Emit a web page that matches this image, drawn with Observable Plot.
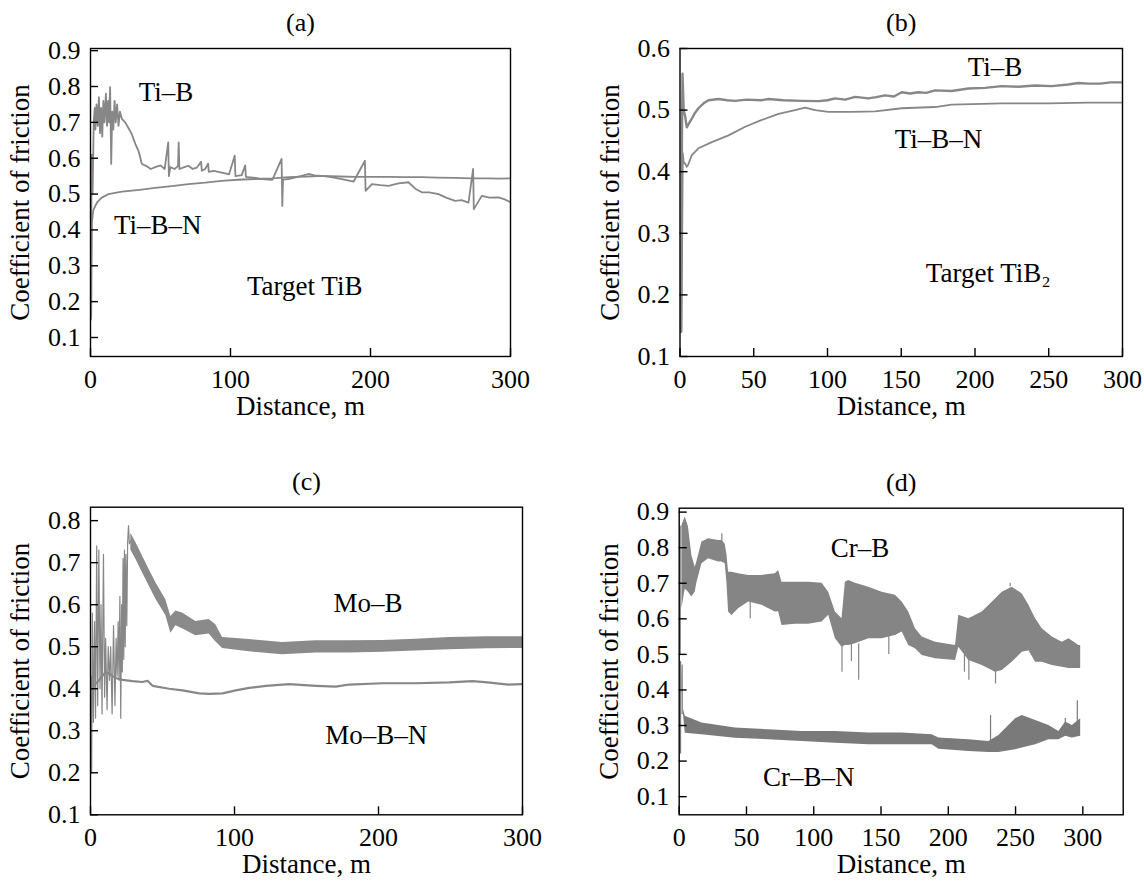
<!DOCTYPE html>
<html><head><meta charset="utf-8">
<script src="https://cdn.jsdelivr.net/npm/d3@7"></script>
<script src="https://cdn.jsdelivr.net/npm/@observablehq/plot@0.6"></script>
<style>
body{margin:0;background:#fff;}
#wrap{position:relative;width:1144px;height:882px;overflow:hidden;}
#wrap svg{position:absolute;overflow:visible;}
</style></head><body><div id="wrap"></div>
<script>
// ---------- data ----------
// Panel (a): target TiB  [distance m, coefficient]
const tiB_a = [[0.3,0.15],[0.8,0.61],[1.5,0.5],[2.3,0.70],[3.0,0.74],[3.5,0.68],[4.3,0.75],[5.2,0.69],[6.0,0.77],[6.8,0.67],[7.6,0.74],[8.4,0.66],[9.2,0.76],[10,0.70],[11,0.78],[11.8,0.69],[12.6,0.76],[13.3,0.70],[14,0.798],[14.8,0.584],[15.5,0.73],[16.3,0.68],[17.2,0.76],[18,0.70],[19,0.75],[20,0.69],[21,0.73],[22.4,0.71],[24.8,0.70],[27,0.685],[29.5,0.667],[32,0.64],[34.3,0.62],[36.7,0.584],[40,0.578],[43,0.57],[46.2,0.575],[50,0.58],[53,0.57],[55.5,0.644],[56,0.55],[57,0.575],[60,0.57],[62.5,0.578],[63,0.644],[63.5,0.57],[67,0.575],[70,0.579],[73,0.57],[76,0.574],[79,0.59],[79.5,0.565],[81.9,0.57],[84,0.585],[84.5,0.562],[88,0.565],[93.8,0.56],[99,0.555],[103,0.607],[103.5,0.55],[108,0.553],[110.5,0.58],[111,0.548],[112.9,0.547],[118,0.545],[122.4,0.542],[130,0.54],[136.5,0.598],[137,0.467],[137.5,0.54],[141.4,0.542],[148,0.548],[155.7,0.556],[160,0.552],[165.2,0.551],[172,0.547],[179.5,0.542],[188,0.535],[196,0.593],[196.5,0.509],[201,0.528],[207,0.525],[212.9,0.523],[220,0.53],[227.1,0.533],[232,0.515],[236.7,0.505],[242,0.505],[248.6,0.5],[254,0.49],[260.5,0.481],[265,0.483],[270,0.476],[273.3,0.57],[273.8,0.458],[279.5,0.495],[285,0.49],[291.4,0.491],[296,0.485],[300,0.477]];
const tiBN_a = [[0.5,0.16],[1.0,0.42],[2,0.455],[3.3,0.466],[5,0.478],[8.1,0.49],[12.9,0.5],[22.4,0.507],[35,0.512],[46.2,0.517],[58,0.522],[70,0.528],[82,0.532],[93.8,0.537],[105,0.54],[117.6,0.542],[130,0.544],[141.4,0.547],[155,0.549],[165.2,0.551],[178,0.549],[189,0.548],[200,0.548],[212.9,0.548],[225,0.547],[236.7,0.547],[248,0.546],[260.5,0.545],[272,0.544],[284.3,0.544],[292,0.543],[300,0.544]];

// Panel (b): target TiB2
const tiB_b = [[0.7,0.14],[1.3,0.45],[1.7,0.559],[2.5,0.50],[3.5,0.49],[4.6,0.472],[6,0.478],[8,0.486],[10,0.495],[12.5,0.503],[16,0.511],[19.3,0.516],[26.1,0.518],[32,0.516],[37.4,0.515],[45,0.517],[55,0.516],[60,0.518],[70,0.516],[82.6,0.515],[93.9,0.5145],[100,0.516],[105.2,0.519],[112,0.517],[118.7,0.5215],[127.7,0.519],[133,0.521],[139,0.524],[145,0.522],[150.3,0.529],[156,0.527],[161.6,0.529],[167,0.528],[172.9,0.532],[184.2,0.531],[195.5,0.535],[206.8,0.536],[218.1,0.539],[229.4,0.538],[240.7,0.54],[252,0.539],[263.3,0.5415],[270,0.544],[276.8,0.543],[285,0.543],[292,0.545],[300,0.545]];
const tiBN_b = [[1.0,0.14],[1.5,0.30],[1.9,0.43],[2.5,0.415],[3.5,0.413],[4.6,0.408],[5.3,0.41],[8,0.427],[12.5,0.438],[21.6,0.448],[32.9,0.459],[44.2,0.473],[55.5,0.484],[66.8,0.494],[78,0.50],[84.8,0.504],[91.6,0.50],[100.6,0.497],[116.4,0.497],[132.3,0.498],[150.3,0.503],[172.9,0.505],[184.2,0.509],[218.1,0.511],[250,0.511],[276.8,0.512],[300,0.512]];

// Panel (c): Mo-B (early erratic part as a line, then a band [x, low, high]) and Mo-B-N
const moB_c_start = [[0.3,0.43],[0.8,0.2],[1.3,0.58],[2,0.32],[2.8,0.56],[3.5,0.33],[4.3,0.74],[5,0.36],[5.8,0.73],[6.6,0.40],[7.3,0.6],[8,0.34],[9,0.72],[9.8,0.38],[10.5,0.52],[11.5,0.35],[12.3,0.5],[13.2,0.42],[14,0.50],[15,0.34],[16,0.55],[17,0.36],[17.8,0.52],[18.5,0.43],[19.2,0.56],[19.8,0.42],[20.4,0.62],[21,0.33],[21.6,0.60],[22.1,0.44],[22.6,0.71],[23.1,0.47],[23.6,0.73],[24.1,0.5],[24.6,0.72],[25.2,0.55],[25.8,0.75],[26.4,0.788],[27,0.745],[28,0.752]];
const moB_c_band = [[28,0.73,0.77],[31.5,0.708,0.748],[36.1,0.676,0.716],[40.7,0.645,0.684],[45.4,0.613,0.652],[52.3,0.574,0.612],[55.8,0.532,0.572],[59.3,0.55,0.585],[63.9,0.543,0.58],[73.1,0.526,0.56],[82.4,0.53,0.565],[87,0.512,0.552],[91.7,0.496,0.522],[110.2,0.488,0.517],[133.3,0.481,0.51],[156.5,0.485,0.514],[179.6,0.485,0.514],[202.8,0.487,0.515],[225.9,0.49,0.518],[249.1,0.493,0.522],[275.7,0.495,0.524],[300,0.496,0.524]];
const moBN_c = [[0.5,0.38],[1.4,0.404],[3,0.41],[6,0.42],[8,0.43],[10.6,0.439],[13,0.436],[15.3,0.43],[18,0.425],[22.2,0.421],[29.2,0.418],[36.1,0.416],[39.6,0.419],[43.1,0.407],[54.6,0.40],[63.9,0.396],[75.5,0.389],[82.4,0.388],[91.7,0.389],[100.9,0.396],[110.2,0.402],[121.8,0.407],[138,0.411],[156.5,0.407],[170.4,0.405],[179.6,0.41],[202.8,0.413],[225.9,0.413],[249.1,0.415],[265.3,0.418],[275.7,0.415],[290,0.41],[300,0.411]];

// Panel (d): Cr-B and Cr-B-N bands [x, low, high] and spikes [x, from, to]
const crB_d = [[2,0.628,0.862],[4.5,0.684,0.886],[6.9,0.675,0.858],[9.4,0.661,0.778],[11.9,0.675,0.745],[13.1,0.70,0.76],[16.9,0.755,0.816],[21.8,0.769,0.825],[29.3,0.76,0.82],[31.7,0.76,0.82],[34.2,0.755,0.81],[35.5,0.70,0.78],[36.7,0.619,0.731],[39.2,0.609,0.731],[44.1,0.628,0.727],[51.6,0.647,0.722],[61.5,0.638,0.722],[71.4,0.619,0.727],[73.9,0.62,0.736],[76.4,0.581,0.703],[86.3,0.585,0.703],[96.2,0.585,0.703],[106.2,0.591,0.70],[111.1,0.61,0.675],[116.1,0.544,0.619],[121,0.52,0.60],[123.5,0.525,0.703],[126,0.525,0.708],[131,0.53,0.70],[140.9,0.544,0.689],[150.8,0.544,0.675],[160.7,0.553,0.666],[165.7,0.563,0.647],[170.6,0.525,0.619],[175.6,0.516,0.572],[180.6,0.497,0.549],[190.5,0.488,0.534],[205.4,0.483,0.525],[207.8,0.52,0.61],[215.3,0.483,0.60],[225.2,0.469,0.619],[235.1,0.45,0.656],[240.1,0.455,0.675],[247.5,0.478,0.689],[255,0.506,0.67],[259.9,0.51,0.638],[264.9,0.478,0.60],[269.8,0.478,0.572],[277.3,0.469,0.549],[284.7,0.464,0.534],[289.7,0.46,0.544],[297.1,0.46,0.525],[298.4,0.46,0.525]];
const crB_spikes = [[0.8,0.5,0.86],[31.7,0.80,0.839],[52.8,0.60,0.65],[121,0.45,0.53],[128,0.48,0.53],[133.4,0.427,0.53],[155.8,0.50,0.55],[212,0.45,0.50],[215.3,0.427,0.49],[235.1,0.417,0.46],[246,0.69,0.70]];
const crBN_d = [[1.5,0.45,0.48],[3.2,0.33,0.345],[4.5,0.278,0.326],[16.9,0.274,0.307],[41.7,0.264,0.293],[66.5,0.26,0.288],[91.3,0.255,0.283],[116.1,0.25,0.283],[140.9,0.246,0.279],[165.7,0.246,0.279],[188,0.246,0.274],[193,0.233,0.265],[215.3,0.227,0.26],[230.2,0.224,0.255],[237.6,0.224,0.272],[250,0.232,0.319],[255,0.237,0.328],[264.9,0.246,0.314],[274.8,0.26,0.30],[282.2,0.26,0.283],[287.2,0.27,0.31],[292.2,0.265,0.30],[298.4,0.27,0.319]];
const crBN_spikes = [[1.0,0.22,0.48],[2.2,0.33,0.47],[231.4,0.25,0.328],[295.9,0.30,0.37],[287,0.28,0.32]];

// tick values
const yTicksA = [0.1,0.2,0.3,0.4,0.5,0.6,0.7,0.8,0.9];
const yTicksB = [0.1,0.2,0.3,0.4,0.5,0.6];
const yTicksC = [0.1,0.2,0.3,0.4,0.5,0.6,0.7,0.8];
const yTicksD = [0.1,0.2,0.3,0.4,0.5,0.6,0.7,0.8,0.9];
const xTicks100 = [0,100,200,300];
const xTicks50 = [0,50,100,150,200,250,300];

// annotations
const notesA = [{t:"Ti–B",x:54,y:0.783},{t:"Ti–B–N",x:48,y:0.414},{t:"Target TiB",x:153,y:0.244}];
const notesB = [{t:"Ti–B",x:213.6,y:0.569},{t:"Ti–B–N",x:175.2,y:0.453},{t:"Target TiB₂",x:209,y:0.235}];
const notesC = [{t:"Mo–B",x:192.7,y:0.602},{t:"Mo–B–N",x:198.4,y:0.290}];
const notesD = [{t:"Cr–B",x:134.4,y:0.799},{t:"Cr–B–N",x:96.2,y:0.153}];

// ---------- drawing ----------
const FONT = "'Liberation Serif','Times New Roman',serif";
const GRAY = "#878787";
const wrap = document.getElementById("wrap");

function panel(o) {
  const fw = o.width - o.mL - o.mR, fh = o.height - o.mT - o.mB;
  const svg = Plot.plot({
    width: o.width, height: o.height,
    marginLeft: o.mL, marginRight: o.mR, marginTop: o.mT, marginBottom: o.mB,
    x: {domain: o.xDomain},
    y: {domain: o.yDomain},
    style: {fontFamily: FONT, fontSize: "26px", color: "black", background: "transparent", overflow: "visible"},
    marks: [
      ...o.marks,
      Plot.ruleY(o.yTicks, {y: d => d, insetRight: fw - 8, stroke: "black", strokeWidth: 1.4}),
      Plot.ruleX(o.xTicks, {x: d => d, insetTop: fh - 8, stroke: "black", strokeWidth: 1.4}),
      Plot.frame({stroke: "black", strokeWidth: 1.4}),
      Plot.axisY(o.yTicks, {tickSize: 0, tickPadding: 10, tickFormat: d3.format(".1f"), label: null, fontSize: 26}),
      Plot.axisX(o.xTicks, {tickSize: 0, tickPadding: 13, tickFormat: d3.format("d"), label: null, fontSize: 26}),
      Plot.text(o.notes, {x: "x", y: "y", text: "t", fontSize: 27, fill: "black", textAnchor: "middle", lineAnchor: "middle"}),
      Plot.text([o.title], {text: d => d, frameAnchor: "top", dy: -26, fontSize: 26, lineAnchor: "middle", fill: "black"}),
      Plot.text(["Coefficient of friction"], {text: d => d, frameAnchor: "left", dx: -70, rotate: -90, fontSize: 27, lineAnchor: "middle", textAnchor: "middle", fill: "black"}),
      Plot.text(["Distance, m"], {text: d => d, frameAnchor: "bottom", dy: 50, fontSize: 27, lineAnchor: "middle", fill: "black"})
    ]
  });
  svg.style.left = o.left + "px";
  svg.style.top = o.top + "px";
  svg.style.maxWidth = "none";
  wrap.appendChild(svg);
}

const line = (data, extra = {}) => Plot.line(data, {x: d => d[0], y: d => d[1], stroke: GRAY, strokeWidth: 1.6, clip: true, ...extra});
const band = (data, fill) => Plot.areaY(data, {x: d => d[0], y1: d => d[1], y2: d => d[2], fill, clip: true});
const spikes = (data, stroke) => Plot.ruleX(data, {x: d => d[0], y1: d => d[1], y2: d => d[2], stroke, strokeWidth: 1.2, clip: true});

panel({left: 0, top: 0, width: 572, height: 441, mL: 90, mR: 62, mT: 48, mB: 85,
  xDomain: [0, 300], yDomain: [0.047, 0.906], xTicks: xTicks100, yTicks: yTicksA, title: "(a)", notes: notesA,
  marks: [line(tiBN_a, {strokeWidth: 1.8}), line(tiB_a, {strokeWidth: 1.8})]});

panel({left: 572, top: 0, width: 572, height: 441, mL: 107.5, mR: 22, mT: 48, mB: 85,
  xDomain: [0, 300], yDomain: [0.1, 0.6], xTicks: xTicks50, yTicks: yTicksB, title: "(b)", notes: notesB,
  marks: [line(tiBN_b, {strokeWidth: 1.8}), line(tiB_b, {strokeWidth: 2.4})]});

panel({left: 0, top: 441, width: 572, height: 441, mL: 90, mR: 50, mT: 65.7, mB: 67.7,
  xDomain: [0, 300], yDomain: [0.1, 0.832], xTicks: xTicks100, yTicks: yTicksC, title: "(c)", notes: notesC,
  marks: [band(moB_c_band, "#8a8a8a"), line(moB_c_start, {strokeWidth: 1.2}), line(moBN_c, {strokeWidth: 2.2})]});

panel({left: 572, top: 441, width: 572, height: 441, mL: 106.7, mR: 21.3, mT: 66.7, mB: 67.7,
  xDomain: [0, 330], yDomain: [0.049, 0.911], xTicks: xTicks50, yTicks: yTicksD, title: "(d)", notes: notesD,
  marks: [band(crB_d, "#858585"), spikes(crB_spikes, "#858585"), band(crBN_d, "#7a7a7a"), spikes(crBN_spikes, "#7a7a7a")]});
</script>
</body></html>
